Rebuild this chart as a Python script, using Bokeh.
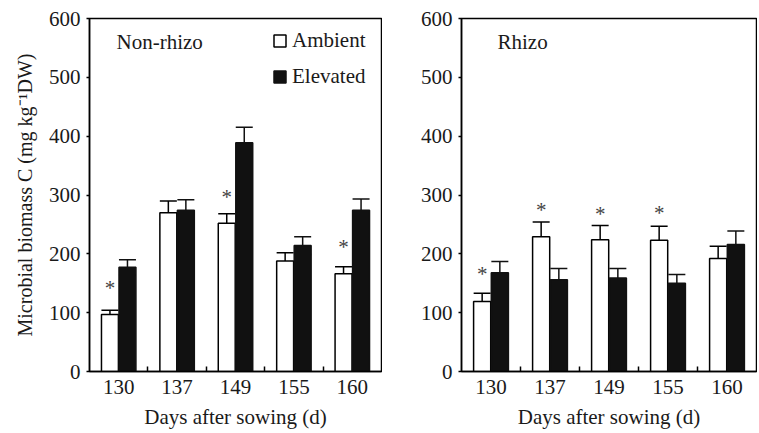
import numpy as np
from bokeh.plotting import figure
from bokeh.models import (ColumnDataSource, Whisker, FixedTicker, Legend, LegendItem,
                          Label, Range1d, TeeHead)
from bokeh.layouts import row
from bokeh.embed import file_html
from bokeh.resources import INLINE
from bokeh.core.properties import value

# ---- data ----
days = ["130", "137", "149", "155", "160"]

non_amb = [97, 270, 252, 188, 166]
non_amb_err = [7, 20, 16, 14, 12]
non_ele = [177, 274, 389, 214, 274]
non_ele_err = [13, 18, 26, 15, 19]
non_star_idx = [0, 2, 4]
non_star_y = [142, 296, 211]

rh_amb = [119, 229, 224, 223, 192]
rh_amb_err = [14, 25, 24, 24, 21]
rh_ele = [168, 156, 159, 150, 216]
rh_ele_err = [19, 19, 16, 15, 23]
rh_star_idx = [0, 1, 2, 3]
rh_star_y = [166, 275, 268, 270]

FONT = "Liberation Serif"
TXT = "#1a1a1a"
FS = "21px"


def make_panel(amb, amb_err, ele, ele_err, star_idx, star_y, title, ylabel,
               legend, width, border_left):
    idx = np.arange(len(days)) + 0.5
    p = figure(width=width, height=431, output_backend="svg", toolbar_location=None,
               x_range=Range1d(0, len(days)), y_range=Range1d(0, 600),
               min_border_left=border_left, min_border_right=1,
               min_border_top=18, min_border_bottom=59)
    p.grid.visible = False
    p.outline_line_color = "black"
    p.outline_line_width = 1.5
    p.background_fill_color = "white"
    p.border_fill_color = "white"

    src_a = ColumnDataSource(dict(x=idx - 0.15, top=amb,
                                  up=np.array(amb) + np.array(amb_err),
                                  lo=np.array(amb) - np.array(amb_err)))
    src_e = ColumnDataSource(dict(x=idx + 0.15, top=ele,
                                  up=np.array(ele) + np.array(ele_err),
                                  lo=np.array(ele) - np.array(ele_err)))

    ra = p.vbar(x="x", top="top", width=0.29, source=src_a, fill_color="white",
                line_color="black", line_width=1.5)
    re = p.vbar(x="x", top="top", width=0.29, source=src_e, fill_color="#111111",
                line_color="#111111", line_width=1.5)

    for src, col in ((src_a, "black"), (src_e, "#111111")):
        w = Whisker(base="x", upper="up", lower="lo", source=src,
                    line_color=col, line_width=1.5,
                    upper_head=TeeHead(size=17, line_color=col, line_width=1.5),
                    lower_head=TeeHead(size=17, line_color=col, line_width=1.5))
        p.add_layout(w)

    sx = [idx[i] - 0.15 for i in star_idx]
    p.text(x=sx, y=star_y, text=["*"] * len(sx), text_font=value(FONT),
           text_font_size="21px", text_color="#444444", text_align="center",
           text_baseline="middle")

    # axes
    p.xaxis.ticker = FixedTicker(ticks=list(idx), minor_ticks=list(np.arange(1, len(days))))
    p.xaxis.major_label_overrides = {float(v): d for v, d in zip(idx, days)}
    p.xaxis.major_tick_in = 0
    p.xaxis.major_tick_out = 0
    p.xaxis.minor_tick_in = 5
    p.xaxis.minor_tick_out = 0
    p.xaxis.minor_tick_line_width = 1.5
    p.xaxis.axis_label = "Days after sowing (d)"

    p.yaxis.ticker = FixedTicker(ticks=[0, 100, 200, 300, 400, 500, 600])
    p.yaxis.major_tick_in = 0
    p.yaxis.major_tick_out = 3
    p.yaxis.minor_tick_line_color = None
    p.yaxis.major_label_standoff = 6

    for ax in (p.xaxis[0], p.yaxis[0]):
        ax.axis_line_width = 1.5
        ax.axis_line_color = "black"
        ax.major_tick_line_width = 1.5
        ax.major_label_text_font = FONT
        ax.major_label_text_font_size = FS
        ax.major_label_text_color = TXT
        ax.axis_label_text_font = FONT
        ax.axis_label_text_font_size = FS
        ax.axis_label_text_font_style = "normal"
        ax.axis_label_text_color = TXT
    p.xaxis.major_label_standoff = 8
    p.xaxis.axis_label_standoff = 8
    if ylabel:
        p.yaxis.axis_label = ylabel
        p.yaxis.axis_label_standoff = 10
        p.yaxis.axis_label_text_font_size = "20px"

    p.add_layout(Label(x=title[1], y=330, x_units="screen", y_units="screen",
                       text=title[0], text_font=FONT, text_font_size=FS,
                       text_color=TXT, text_baseline="middle"))

    if legend:
        lg = Legend(items=[LegendItem(label="Ambient", renderers=[ra]),
                           LegendItem(label="Elevated", renderers=[re])],
                    location=(183, 282), padding=0, spacing=11, margin=0,
                    glyph_width=15, glyph_height=15, label_height=22,
                    label_standoff=5, border_line_color=None,
                    background_fill_alpha=0, label_text_font=FONT,
                    label_text_font_size=FS, label_text_color=TXT)
        p.add_layout(lg)
    return p


p1 = make_panel(non_amb, non_amb_err, non_ele, non_ele_err, non_star_idx, non_star_y,
                ("Non-rhizo", 27), "Microbial biomass C (mg kg\u207b\u00b9DW)", True, 382, 89)
p2 = make_panel(rh_amb, rh_amb_err, rh_ele, rh_ele_err, rh_star_idx, rh_star_y,
                ("Rhizo", 36), None, False, 375, 79)

layout = row(p1, p2)
open("out.html", "w").write(file_html(layout, INLINE))
